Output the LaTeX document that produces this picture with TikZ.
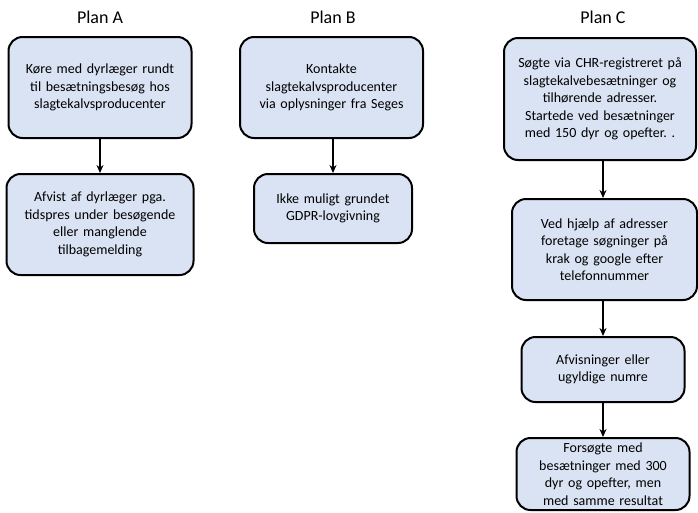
\documentclass[tikz,border=0pt]{standalone}
\usepackage{fontspec}
\setmainfont{Carlito}
\usepackage{tikz}
\definecolor{boxBlue}{RGB}{218, 227, 243}
\usetikzlibrary{arrows.meta, positioning}
\frenchspacing

\begin{document}
\begin{tikzpicture}[
    x=1pt, y=-1pt,
    title/.style={font=\fontsize{18}{21}\selectfont},
    box/.style={rectangle, rounded corners=14pt, draw=black, line width=2pt, fill=boxBlue, inner sep=2pt, align=center, font=\fontsize{14}{17.5}\selectfont},
    arrow/.style={-{Stealth[length=8pt, width=7pt]}, line width=2pt}
]
    \useasboundingbox (0,0) rectangle (698,512);

    % titles
    \node[title] (titleA) at (100,17) {Plan A};
    \node[title] (titleB) at (333,17) {Plan B};
    \node[title] (titleC) at (603,17) {Plan C};

    % Plan A
    \node[box, minimum width=183pt, minimum height=101pt, text width=177pt] (a1) at (100,87.5) {Køre med dyrlæger rundt\\til besætningsbesøg hos\\slagtekalvsproducenter};
    \node[box, minimum width=187pt, minimum height=101pt, text width=181pt] (a2) at (100,224.5) {Afvist af dyrlæger pga.\\tidspres under besøgende\\eller manglende\\tilbagemelding};

    % Plan B
    \node[box, minimum width=183pt, minimum height=101pt, text width=177pt] (b1) at (331.5,87.5) {Kontakte\\slagtekalvsproducenter\\via oplysninger fra Seges};
    \node[box, minimum width=158pt, minimum height=69pt, text width=152pt] (b2) at (333,208.5) {Ikke muligt grundet\\GDPR-lovgivning};

    % Plan C
    \node[box, minimum width=192pt, minimum height=122pt, text width=186pt] (c1) at (600,99) {Søgte via CHR-registreret på\\slagtekalvebesætninger og\\tilhørende adresser.\\Startede ved besætninger\\med 150 dyr og opefter. .};
    \node[box, minimum width=185pt, minimum height=101pt, text width=179pt] (c2) at (604.5,249.5) {Ved hjælp af adresser\\foretage søgninger på\\krak og google efter\\telefonnummer};
    \node[box, minimum width=163pt, minimum height=65pt, text width=157pt] (c3) at (603,369.5) {Afvisninger eller\\ugyldige numre};
    \node[box, minimum width=173pt, minimum height=72pt, text width=167pt] (c4) at (603,474) {Forsøgte med\\besætninger med 300\\dyr og opefter, men\\med samme resultat};

    \draw[arrow] (a1) -- (a2);
    \draw[arrow] (b1.south -| b2) -- (b2);
    \draw[arrow] (c1.south -| c3) -- (c2.north -| c3);
    \draw[arrow] (c2.south -| c3) -- (c3);
    \draw[arrow] (c3) -- (c4);
\end{tikzpicture}
\end{document}
